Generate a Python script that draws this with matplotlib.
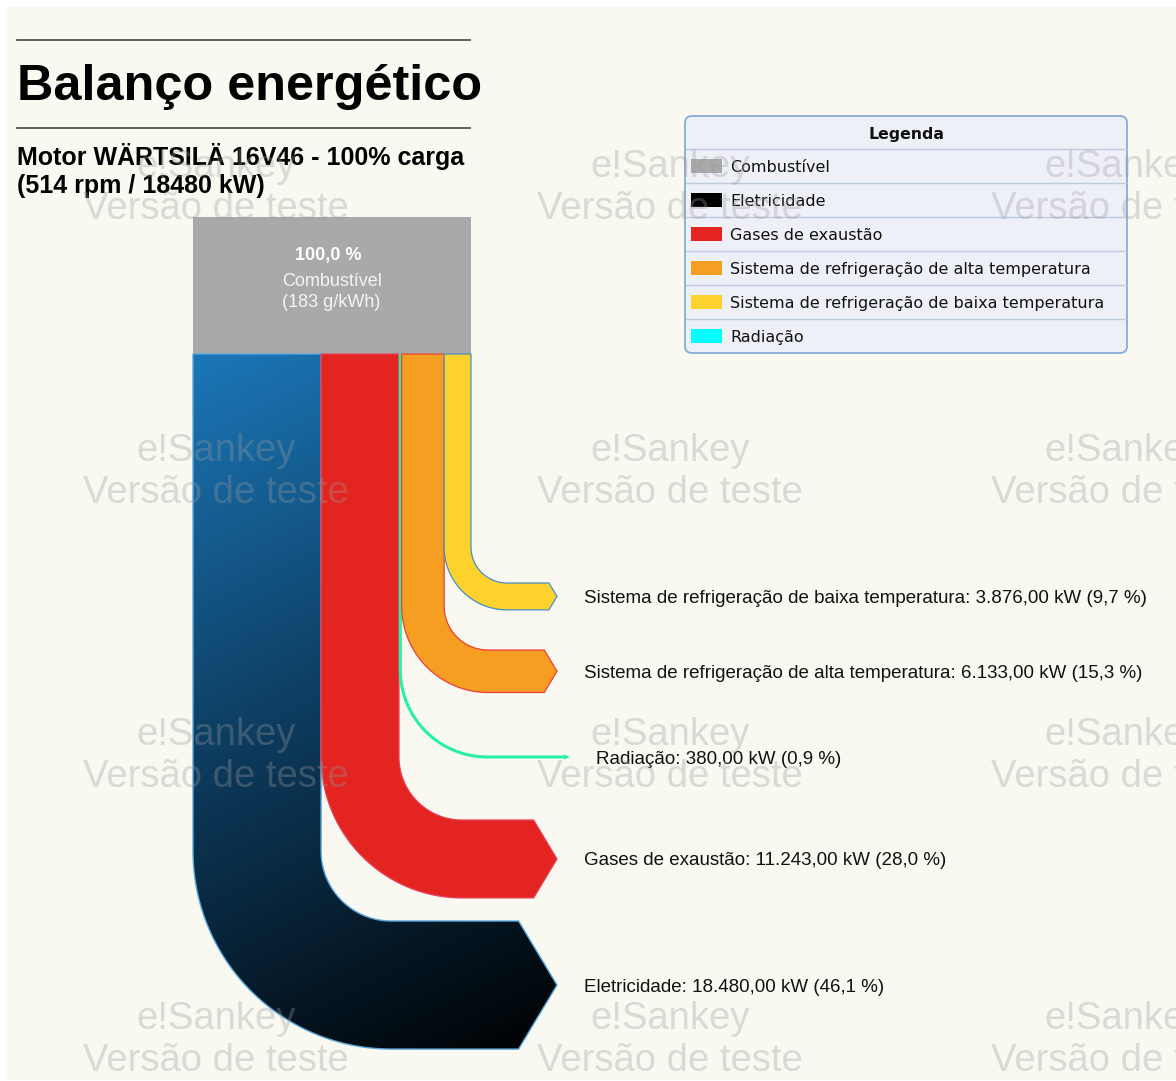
"""
Balanço energético — Sankey diagram of a Wärtsilä 16V46 engine at 100% load,
redrawn with plain matplotlib patches (pixel coordinates, y pointing down).
"""

import numpy as np
import matplotlib
matplotlib.use("Agg")
import matplotlib.pyplot as plt
from matplotlib.path import Path
from matplotlib.patches import PathPatch, Rectangle, FancyBboxPatch, Polygon
from matplotlib.colors import LinearSegmentedColormap

W, H = 1176, 1081

# ─── data ─────────────────────────────────────────────────────────────────────
title = "Balanço energético"
subtitle = ["Motor WÄRTSILÄ 16V46 - 100% carga", "(514 rpm / 18480 kW)"]

source_name = "Combustível"
source_pct = 100.0
source_note = "(183 g/kWh)"

flow_names = ["Eletricidade", "Gases de exaustão", "Radiação",
              "Sistema de refrigeração de alta temperatura",
              "Sistema de refrigeração de baixa temperatura"]
flow_kw = [18480.0, 11243.0, 380.0, 6133.0, 3876.0]
flow_pct = [46.1, 28.0, 0.9, 15.3, 9.7]
flow_colors = ["#1b75b5", "#e32420", "#27f0a3", "#f59e22", "#fdd22d"]
flow_edges = ["#5aa8dc", "#e8405a", "#27f0a3", "#e8403a", "#4a8fc4"]

legend_names = ["Combustível", "Eletricidade", "Gases de exaustão",
                "Sistema de refrigeração de alta temperatura",
                "Sistema de refrigeração de baixa temperatura", "Radiação"]
legend_colors = ["#a9a9a9", "#000000", "#e32420", "#f59e22", "#fdd22d", "#00ffff"]

# ─── layout (pixels) ──────────────────────────────────────────────────────────
SRC_X0, SRC_X1, SRC_Y0, SRC_Y1 = 193, 471, 217, 354
corner_y = [851, 757, 670, 606, 547]      # where each flow starts to bend
inner_r = [70, 63, 87, 44, 36]            # inner bend radius
TIP_X = 557


def br(v, dec):
    s = f"{v:,.{dec}f}"
    return s.replace(",", "X").replace(".", ",").replace("X", ".")


fig = plt.figure(figsize=(W / 100, H / 100), dpi=100, facecolor="white")
ax = fig.add_axes([0, 0, 1, 1])
ax.set_xlim(0, W)
ax.set_ylim(H, 0)
ax.axis("off")

ax.add_patch(Rectangle((7, 7), W - 7, H - 8, facecolor="#f9f8f1", edgecolor="none", zorder=0))

# ─── titles ───────────────────────────────────────────────────────────────────
ax.plot([17, 470], [40, 40], color="#555555", lw=1.3, zorder=2)
ax.plot([17, 470], [128, 128], color="#555555", lw=1.3, zorder=2)
ax.text(17, 100, title, fontsize=36.3, fontweight="bold", family="Liberation Sans",
        va="baseline", ha="left", color="black", zorder=5)
ax.text(17, 165, subtitle[0], fontsize=18, fontweight="bold", family="Liberation Sans",
        va="baseline", ha="left", color="black", zorder=5)
ax.text(17, 193, subtitle[1], fontsize=18, fontweight="bold", family="Liberation Sans",
        va="baseline", ha="left", color="black", zorder=5)

# ─── source box ───────────────────────────────────────────────────────────────
ax.add_patch(Rectangle((SRC_X0, SRC_Y0), SRC_X1 - SRC_X0, SRC_Y1 - SRC_Y0,
                       facecolor="#a9a9a9", edgecolor="none", zorder=2))
ax.text(328, 260, f"{br(source_pct, 1)} %", fontsize=13, fontweight="bold",
        family="Liberation Sans", color="white", ha="center", va="baseline", zorder=5)
ax.text(332, 286, source_name, fontsize=13, family="Liberation Sans",
        color="#f4f4f4", ha="center", va="baseline", zorder=5)
ax.text(331, 307, source_note, fontsize=13, family="Liberation Sans",
        color="#f4f4f4", ha="center", va="baseline", zorder=5)


# ─── flows ────────────────────────────────────────────────────────────────────
def flow_path(x0, x1, cy, r, x_tip):
    w = x1 - x0
    R = r + w
    cx = x1 + r
    x_end = x_tip - 0.3 * w
    th = np.linspace(0, np.pi / 2, 60)
    inner = np.column_stack([cx - r * np.cos(th), cy + r * np.sin(th)])
    outer = np.column_stack([cx - R * np.cos(th[::-1]), cy + R * np.sin(th[::-1])])
    pts = [(x0, SRC_Y1), (x1, SRC_Y1)] + inner.tolist() + [
        (x_end, cy + r), (x_tip, cy + r + w / 2), (x_end, cy + r + w)] + \
        outer.tolist() + [(x0, SRC_Y1)]
    return Path(pts, closed=True)


total_kw = sum(flow_kw)
scale = (SRC_X1 - SRC_X0) / total_kw
blue_cmap = LinearSegmentedColormap.from_list(
    "elec", ["#1b77b8", "#0c3859", "#000000"])

x = SRC_X0
for i, name in enumerate(flow_names):
    w = flow_kw[i] * scale
    x0, x1 = x, x + w
    x = x1
    cy, r = corner_y[i], inner_r[i]
    label = f"{name}: {br(flow_kw[i], 2)} kW ({br(flow_pct[i], 1)} %)"

    if w < 5:
        # thin radiation line
        xm = (x0 + x1) / 2
        cx = xm + r
        th = np.linspace(0, np.pi / 2, 60)
        xs = np.concatenate([[xm], cx - r * np.cos(th), [566]])
        ys = np.concatenate([[SRC_Y1], cy + r * np.sin(th), [cy + r]])
        ax.plot(xs, ys, color=flow_colors[i], lw=2.2, solid_capstyle="butt", zorder=3)
        ax.add_patch(Polygon([(564, cy + r - 2.5), (570, cy + r), (564, cy + r + 2.5)],
                             closed=True, facecolor=flow_colors[i], edgecolor="none", zorder=3))
        ax.text(596, cy + r + 6.5, label, fontsize=13.5, family="Liberation Sans",
                color="#111111", ha="left", va="baseline", zorder=5)
        continue

    path = flow_path(x0, x1, cy, r, TIP_X)
    if i == 0:
        # electricity: diagonal blue → black gradient, clipped to the flow shape
        gx0, gx1, gy0, gy1 = SRC_X0, TIP_X + 1, SRC_Y1, cy + r + w + 1
        gx, gy = np.meshgrid(np.linspace(gx0, gx1, 300), np.linspace(gy0, gy1, 500))
        t = ((gy - gy0) + 0.5 * (gx - gx0)) / ((gy1 - gy0) + 0.5 * (gx1 - gx0))
        im = ax.imshow(t, cmap=blue_cmap, vmin=0, vmax=1, origin="upper",
                       extent=(gx0, gx1, gy1, gy0), interpolation="bilinear",
                       aspect="auto", zorder=2)
        patch = PathPatch(path, facecolor="none", edgecolor=flow_edges[i], lw=1.0, zorder=3)
        ax.add_patch(patch)
        im.set_clip_path(patch)
    else:
        ax.add_patch(PathPatch(path, facecolor=flow_colors[i], edgecolor=flow_edges[i],
                               lw=0.9, zorder=3))
    ax.text(584, cy + r + w / 2 + 6.5, label, fontsize=13.5, family="Liberation Sans",
            color="#111111", ha="left", va="baseline", zorder=5)

ax.set_xlim(0, W)
ax.set_ylim(H, 0)

# ─── legend ───────────────────────────────────────────────────────────────────
LX0, LX1, LY0, LY1 = 685, 1127, 116, 353
ax.add_patch(FancyBboxPatch((LX0, LY0), LX1 - LX0, LY1 - LY0,
                            boxstyle="round,pad=0,rounding_size=7",
                            facecolor="#eef0f8", edgecolor="#86acd4", lw=1.3, zorder=4))
ax.text((LX0 + LX1) / 2, 139, "Legenda", fontsize=11.3, fontweight="bold",
        family="DejaVu Sans", ha="center", va="baseline", color="#111111", zorder=5)
for k, (name, col) in enumerate(zip(legend_names, legend_colors)):
    ytop = 149 + 34 * k
    ax.plot([LX0 + 1, LX1 - 1], [ytop, ytop], color="#bccbe0", lw=1.0, zorder=4)
    yc = ytop + 17
    ax.add_patch(Rectangle((691, yc - 7), 31, 14, facecolor=col, edgecolor="none", zorder=5))
    ax.text(730, yc + 6, name, fontsize=11.5, family="DejaVu Sans",
            ha="left", va="baseline", color="#111111", zorder=5)

# ─── watermark ────────────────────────────────────────────────────────────────
for cx in (216, 670, 1124):
    for yb in (219, 503, 787, 1071):
        ax.text(cx, yb - 42, "e!Sankey", fontsize=27.5, family="Liberation Sans",
                color="#9c9c9c", alpha=0.33, ha="center", va="baseline", zorder=6)
        ax.text(cx, yb, "Versão de teste", fontsize=27.5, family="Liberation Sans",
                color="#9c9c9c", alpha=0.33, ha="center", va="baseline", zorder=6)

fig.savefig("out.png", dpi=100, facecolor=fig.get_facecolor())
